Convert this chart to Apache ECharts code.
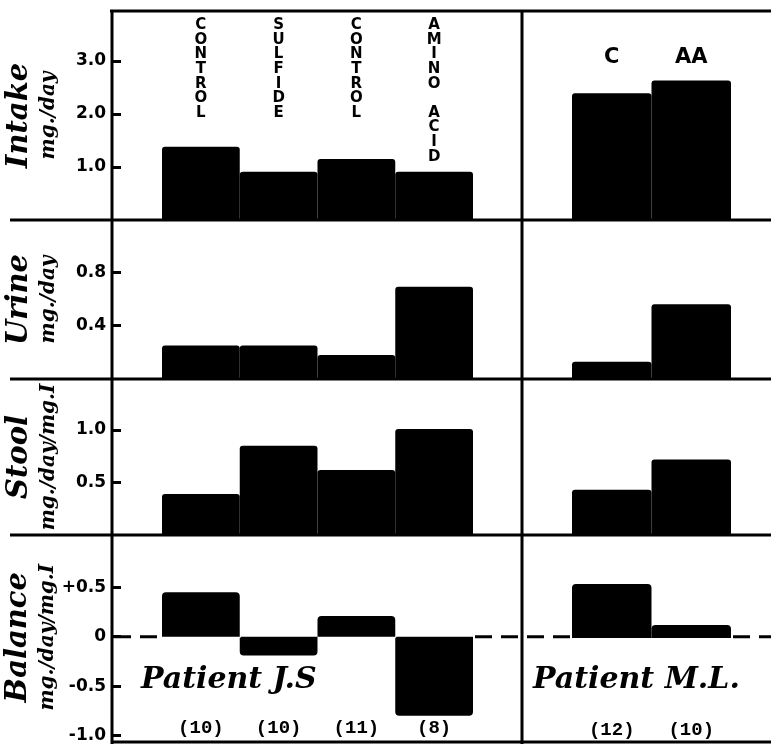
<!DOCTYPE html>
<html><head><meta charset="utf-8">
<script src="https://cdn.jsdelivr.net/npm/echarts@6/dist/echarts.min.js"></script>
<style>html,body{margin:0;padding:0;background:#fff}#c{width:771px;height:744px}</style>
</head><body><div id="c"></div>
<script>
// ---- data ----
const categoriesJS = ['CONTROL', 'SULFIDE', 'CONTROL', 'AMINO ACID'];
const categoriesML = ['C', 'AA'];
const daysJS = [10, 10, 11, 8];
const daysML = [12, 10];
const intakeJS = [1.38, 0.91, 1.15, 0.91];
const intakeML = [2.39, 2.63];
const urineJS = [0.25, 0.25, 0.18, 0.69];
const urineML = [0.13, 0.56];
const stoolJS = [0.39, 0.85, 0.62, 1.01];
const stoolML = [0.43, 0.72];
const balanceJS = [0.45, -0.19, 0.21, -0.80];
const balanceML = [0.54, 0.13];
const intakeTicks = [1, 2, 3];
const urineTicks = [0.4, 0.8];
const stoolTicks = [0.5, 1.0];
const balanceTicks = [-1, -0.5, 0, 0.5];
const patientJS = 'Patient J.S';
const patientML = 'Patient M.L.';

// ---- layout ----
const rows = [
  {name: '{a|Intake}\n{b|mg./day}', js: intakeJS, ml: intakeML, ticks: intakeTicks, top: 11, height: 209, min: 0, max: 3.94,
   fmt: v => v.toFixed(1)},
  {name: '{a|Urine}\n{b|mg./day}', js: urineJS, ml: urineML, ticks: urineTicks, top: 220, height: 159, min: 0, max: 1.19,
   fmt: v => v.toFixed(1)},
  {name: '{a|Stool}\n{b|mg./day/mg.I}', js: stoolJS, ml: stoolML, ticks: stoolTicks, top: 379, height: 156, min: 0, max: 1.486,
   fmt: v => v.toFixed(1)},
  {name: '{a|Balance}\n{b|mg./day/mg.I}', js: balanceJS, ml: balanceML, ticks: balanceTicks, top: 535, height: 207, min: -1.04, max: 1.03,
   fmt: v => v === 0 ? '0' : (v > 0 ? '+' : '') + v.toFixed(1)}
];
const L = {left: 162, width: 311}, R = {left: 572, width: 159};
const W = 771, H = 744;
const nameRich = {
  a: {fontFamily: 'DejaVu Serif', fontStyle: 'italic', fontWeight: 'bold', fontSize: 29, color: '#000', lineHeight: 31},
  b: {fontFamily: 'DejaVu Serif', fontStyle: 'italic', fontWeight: 'bold', fontSize: 20, color: '#000', lineHeight: 27}
};

const grid = [], xAxis = [], yAxis = [], series = [];
rows.forEach((r, i) => {
  const last = i === rows.length - 1, first = i === 0;
  [L, R].forEach((g, side) => {
    const gi = grid.length;
    grid.push({left: g.left, width: g.width, top: r.top, height: r.height, containLabel: false});
    const cats = side === 0 ? categoriesJS : categoriesML;
    const days = side === 0 ? daysJS : daysML;
    let axisLabel = {show: false};
    if (first) {
      axisLabel = side === 0 ? {
        show: true, inside: true, margin: 7, verticalAlign: 'top',
        formatter: v => v.split('').join('\n'), lineHeight: 14.6,
        fontFamily: 'DejaVu Sans', fontWeight: 'bold', fontSize: 15, color: '#000'
      } : {
        show: true, inside: true, margin: 36, verticalAlign: 'top',
        fontFamily: 'DejaVu Sans', fontWeight: 'bold', fontSize: 21, color: '#000'
      };
    } else if (last) {
      axisLabel = {
        show: true, inside: true, margin: 2, verticalAlign: 'bottom',
        formatter: (v, idx) => '(' + days[idx] + ')',
        fontFamily: 'Liberation Mono', fontWeight: 'bold', fontSize: 19, color: '#000'
      };
    }
    xAxis.push({
      gridIndex: gi, type: 'category', data: cats, position: first ? 'top' : 'bottom',
      axisLine: {show: false, onZero: false}, axisTick: {show: false}, splitLine: {show: false},
      axisLabel
    });
    const ya = {
      gridIndex: gi, type: 'value', min: r.min, max: r.max,
      axisLine: {show: false}, splitLine: {show: false}
    };
    if (side === 0) {
      Object.assign(ya, {
        offset: 50,
        axisTick: {show: true, inside: true, length: 9, customValues: r.ticks, lineStyle: {color: '#000', width: 3}},
        axisLabel: {show: true, customValues: r.ticks, formatter: r.fmt, margin: 6,
          fontFamily: 'DejaVu Sans', fontWeight: 'bold', fontSize: 17, color: '#000'},
        name: r.name, nameLocation: 'middle', nameRotate: 90, nameGap: 50,
        nameTextStyle: {rich: nameRich}
      });
    } else {
      Object.assign(ya, {axisTick: {show: false}, axisLabel: {show: false}});
    }
    yAxis.push(ya);
    const vals = side === 0 ? r.js : r.ml;
    series.push({
      type: 'bar', xAxisIndex: gi, yAxisIndex: gi,
      data: vals.map(v => ({value: v, itemStyle: {borderRadius: v >= 0 ? [3, 3, 0, 0] : [0, 0, 3, 3]}})),
      barCategoryGap: '0%',
      itemStyle: last ? {color: '#000', borderColor: '#000', borderWidth: 2} : {color: '#000'},
      silent: true, z: 5
    });
  });
});

const chart = echarts.init(document.getElementById('c'), null, {renderer: 'canvas'});
chart.setOption({animation: false, backgroundColor: '#fff', grid, xAxis, yAxis, series});

// frame lines + zero line (dashed only where no bars stand)
const lw = 3, col = '#000';
const line = (x1, y1, x2, y2) => ({
  type: 'line', z: 30, shape: {x1, y1, x2, y2}, style: {stroke: col, lineWidth: lw}
});
const g = [];
g.push(line(110, rows[0].top, W, rows[0].top));
for (let i = 1; i < rows.length; i++) g.push(line(10, rows[i].top, W, rows[i].top));
const bottom = rows[3].top + rows[3].height;
g.push(line(112, bottom, W, bottom));
g.push(line(112, rows[0].top - 1, 112, H));
g.push(line(522, rows[0].top - 1, 522, H));
const y0 = chart.convertToPixel({yAxisIndex: 6}, 0);
const dashSegs = [[114, L.left - 2], [L.left + L.width + 2, R.left - 2], [R.left + R.width + 2, W]];
dashSegs.forEach(([a, b]) => g.push({type: 'line', z: 1, shape: {x1: a, y1: y0, x2: b, y2: y0},
  style: {stroke: col, lineWidth: 3, lineDash: [17, 9]}}));
const ptStyle = {fontFamily: 'DejaVu Serif', fontStyle: 'italic', fontWeight: 'bold', fontSize: 30, fill: '#000'};
g.push({type: 'text', z: 30, x: 141, y: 665, style: Object.assign({text: patientJS}, ptStyle)});
g.push({type: 'text', z: 30, x: 533, y: 665, style: Object.assign({text: patientML}, ptStyle)});
chart.setOption({graphic: g});
</script>
</body></html>
